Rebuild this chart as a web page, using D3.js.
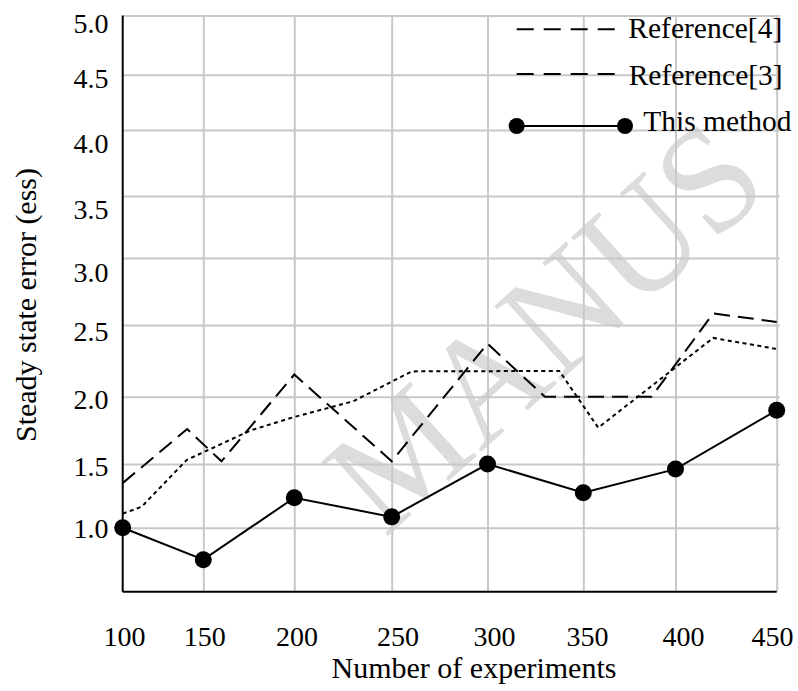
<!DOCTYPE html>
<html><head><meta charset="utf-8">
<script src="https://cdn.jsdelivr.net/npm/d3@7"></script>
<style>
body{margin:0;background:#fff}
svg{display:block}
text{font-family:"Liberation Serif","Times New Roman",serif;fill:#000}
</style>
</head><body>
<svg id="chart" width="798" height="691"></svg>
<script>
// ---- data ----
const xTicks = [100, 150, 200, 250, 300, 350, 400, 450];
const yTicks = [1.0, 1.5, 2.0, 2.5, 3.0, 3.5, 4.0, 4.5, 5.0];
const yMin = 0.5;

const methodX = [100, 150, 200, 250, 300, 350, 400, 450];
const methodY = [1.0, 0.75, 1.235, 1.085, 1.5, 1.275, 1.46, 1.90];

const ref4X = [100, 140, 160, 200, 250, 300, 330, 387, 418.6, 450];
const ref4Y = [1.35, 1.76, 1.52, 2.155, 1.52, 2.37, 2.0, 2.0, 2.586, 2.523];

const ref3X = [100, 111.8, 139.7, 176, 200, 230.3, 260.5, 337.5, 358.1, 418.6, 450];
const ref3Y = [1.11, 1.165, 1.53, 1.75, 1.85, 1.967, 2.177, 2.18, 1.77, 2.41, 2.333];

const legendLabels = ["Reference[4]", "Reference[3]", "This method"];
const xTitle = "Number of experiments";
const yTitle = "Steady state error (ess)";
const watermark = "MANUS"; // visible part of the faint diagonal watermark

// ---- scales (piecewise, following the picture's grid) ----
const x = d3.scaleLinear().domain(xTicks)
  .range([122.7, 203.3, 294.3, 391.7, 487.5, 583.3, 675.5, 776.7]);
const y = d3.scaleLinear().domain([yMin, ...yTicks])
  .range([591.7, 527.7, 464, 396.8, 325, 258, 196, 130, 74.7, 15.5]);
// label placement scales
const xLab = d3.scaleLinear().domain(xTicks)
  .range([124, 204.2, 296.5, 397.5, 494, 587, 683, 772]);
const yLab = d3.scaleLinear().domain(yTicks)
  .range([529, 466.5, 400, 331.7, 273, 210, 143.3, 78.3, 23.7]);

const svg = d3.select("#chart");
const x0 = x(100), x1 = x(450), yb = y(yMin), yt = y(5.0);

// ---- watermark ----
svg.append("text")
  .attr("transform", "translate(545,327) rotate(-42) scale(0.95,1)")
  .attr("text-anchor", "middle")
  .attr("dy", "0.33em")
  .style("font-size", "152px")
  .style("fill", "#dcdcdc")
  .text(watermark);

// ---- grid ----
const gridStyle = g => {
  g.select(".domain").remove();
  g.selectAll("line").attr("stroke", "#c8c8c8").attr("stroke-width", 2);
  g.selectAll("text").remove();
};
svg.append("g").attr("transform", `translate(${x0},0)`)
  .call(d3.axisLeft(y).tickValues(yTicks).tickSize(-(x1 - x0 + 3)).tickFormat(""))
  .call(gridStyle);
svg.append("g").attr("transform", `translate(0,${yb})`)
  .call(d3.axisBottom(x).tickValues(xTicks.slice(1)).tickSize(-(yb - yt)).tickFormat(""))
  .call(gridStyle);

// ---- axis lines ----
svg.append("line").attr("x1", x0).attr("x2", x0).attr("y1", yt).attr("y2", yb)
  .attr("stroke", "#000").attr("stroke-width", 2);
svg.append("line").attr("x1", x0).attr("x2", x1).attr("y1", yb).attr("y2", yb)
  .attr("stroke", "#000").attr("stroke-width", 2);

// ---- tick labels ----
const labStyle = g => {
  g.select(".domain").remove();
  g.selectAll("line").remove();
  g.selectAll("text").style("font-size", "28px").attr("fill", "#000");
};
svg.append("g").attr("transform", "translate(108.5,0)")
  .call(d3.axisLeft(yLab).tickValues(yTicks).tickSize(0).tickPadding(0).tickFormat(d3.format(".1f")))
  .call(labStyle);
svg.append("g").attr("transform", "translate(0,626.5)")
  .call(d3.axisBottom(xLab).tickValues(xTicks).tickSize(0).tickPadding(0).tickFormat(d3.format("d")))
  .call(labStyle);

// ---- axis titles ----
svg.append("text").attr("x", 474).attr("y", 678).attr("text-anchor", "middle")
  .style("font-size", "30px").text(xTitle);
svg.append("text").attr("transform", "translate(36,305) rotate(-90)").attr("text-anchor", "middle")
  .style("font-size", "30px").text(yTitle);

// ---- series ----
const line = d3.line().x(d => x(d[0])).y(d => y(d[1]));
const ref4 = ref4X.map((v, i) => [v, ref4Y[i]]);
const ref3 = ref3X.map((v, i) => [v, ref3Y[i]]);
const method = methodX.map((v, i) => [v, methodY[i]]);

svg.append("path").datum(ref3).attr("d", line).attr("fill", "none")
  .attr("stroke", "#000").attr("stroke-width", 2).attr("stroke-dasharray", "4,3.5");
svg.append("path").datum(ref4).attr("d", line).attr("fill", "none")
  .attr("stroke", "#000").attr("stroke-width", 2).attr("stroke-dasharray", "16,8");
svg.append("path").datum(method).attr("d", line).attr("fill", "none")
  .attr("stroke", "#000").attr("stroke-width", 2);
svg.selectAll("circle.pt").data(method).enter().append("circle").attr("class", "pt")
  .attr("cx", d => x(d[0])).attr("cy", d => y(d[1])).attr("r", 8.5).attr("fill", "#000");

// ---- legend ----
const lg = svg.append("g");
const lx0 = 516.7, lx1 = 615, lx2 = 625;
const rows = [29.3, 74, 126];
[0, 1].forEach(i => {
  lg.append("line").attr("x1", lx0).attr("x2", lx1).attr("y1", rows[i]).attr("y2", rows[i])
    .attr("stroke", "#000").attr("stroke-width", 2).attr("stroke-dasharray", "17,10");
});
lg.append("line").attr("x1", lx0).attr("x2", lx2).attr("y1", rows[2]).attr("y2", rows[2])
  .attr("stroke", "#000").attr("stroke-width", 2);
[lx0, lx2].forEach(cx => lg.append("circle").attr("cx", cx).attr("cy", rows[2]).attr("r", 8).attr("fill", "#000"));
const textPos = [[628.3, 38.3], [628.7, 85], [643.3, 130.7]];
legendLabels.forEach((t, i) => {
  lg.append("text").attr("x", textPos[i][0]).attr("y", textPos[i][1])
    .style("font-size", "29.5px").text(t);
});
</script>
</body></html>
